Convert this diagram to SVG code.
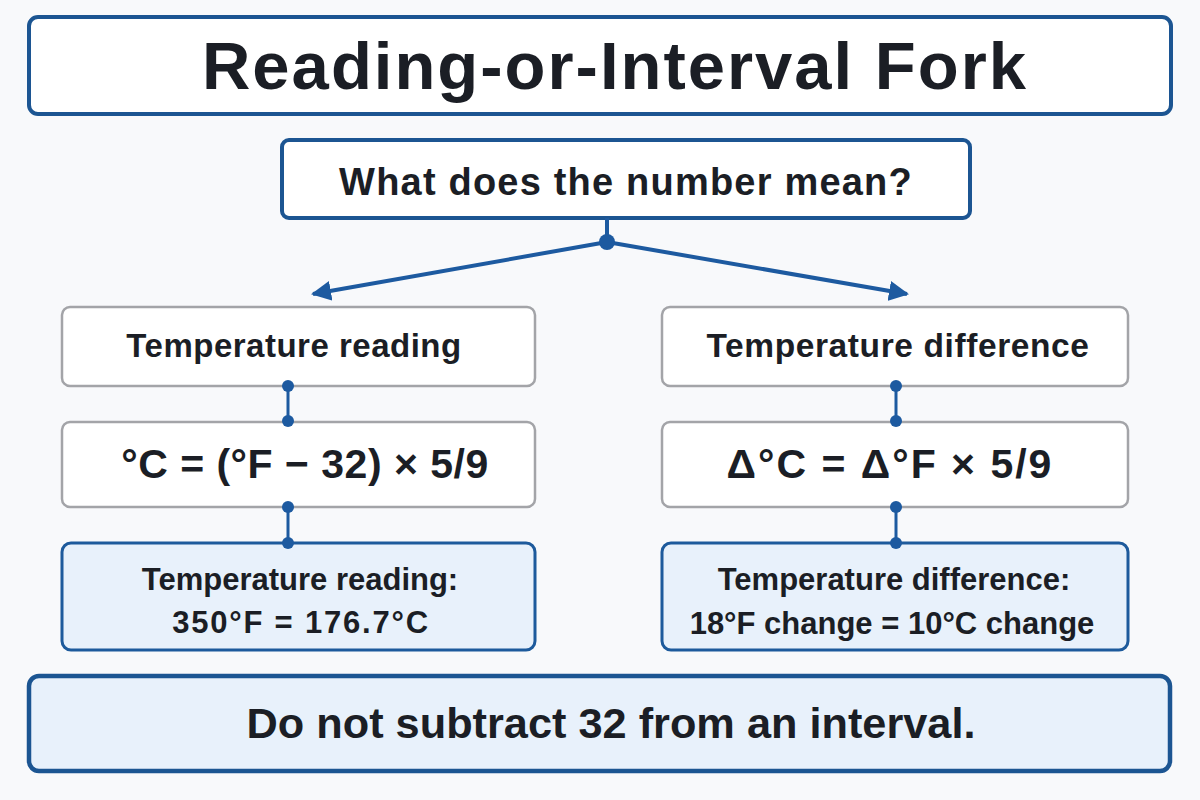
<svg xmlns="http://www.w3.org/2000/svg" width="1200" height="800" viewBox="0 0 1200 800">
<defs>
<style>
.t{font-family:"Liberation Sans",Arial,sans-serif;fill:#1b1e25;text-anchor:middle}
.b{font-weight:bold}
.hdr{fill:#ffffff;stroke:#1c5592;stroke-width:4}
.gray{fill:#ffffff;stroke:#a3a4a8;stroke-width:2.5}
.res{fill:#e8f1fb;stroke:#1d5a9c;stroke-width:3}
.note{fill:#e8f1fb;stroke:#1c5592;stroke-width:4.5}
.ln{stroke:#1d5aa0;stroke-width:4;fill:none}
.ln2{stroke:#1d5aa0;stroke-width:3;fill:none}
.dot{fill:#1d5aa0}
</style>
<marker id="ah" viewBox="0 0 10 10" refX="9" refY="5" markerWidth="5" markerHeight="5" orient="auto" markerUnits="strokeWidth">
<path d="M0,0 L10,5 L0,10 Z" fill="#1d5aa0"/>
</marker>
</defs>
<rect width="1200" height="800" fill="#f8f9fb"/>

<g id="title">
<rect class="hdr" x="29" y="17" width="1142" height="97" rx="9"/>
<text class="t b" x="615" y="89" font-size="67" letter-spacing="2">Reading-or-Interval Fork</text>
</g>

<g id="question">
<rect class="hdr" x="282" y="140" width="688" height="78" rx="7"/>
<text class="t b" x="626" y="195" font-size="38" letter-spacing="1.2">What does the number mean?</text>
</g>

<g id="left-label">
<rect class="gray" x="62" y="307" width="473" height="79" rx="8"/>
<text class="t b" x="294" y="357" font-size="33" letter-spacing="0.5">Temperature reading</text>
</g>
<g id="left-formula">
<rect class="gray" x="62" y="422" width="473" height="85" rx="8"/>
<text class="t b" x="305" y="478" font-size="41" letter-spacing="0.5">°C = (°F − 32) × 5/9</text>
</g>
<g id="left-result">
<rect class="res" x="62" y="543" width="473" height="107" rx="9"/>
<text class="t" x="300" y="590" font-size="31" font-weight="600">Temperature reading:</text>
<text class="t" x="301" y="633" font-size="31" font-weight="600" letter-spacing="1.8">350°F = 176.7°C</text>
</g>

<g id="right-label">
<rect class="gray" x="662" y="307" width="466" height="79" rx="8"/>
<text class="t b" x="898" y="357" font-size="33.5" letter-spacing="0.6">Temperature difference</text>
</g>
<g id="right-formula">
<rect class="gray" x="662" y="422" width="466" height="85" rx="8"/>
<text class="t b" x="890" y="478" font-size="41" letter-spacing="2">Δ°C = Δ°F × 5/9</text>
</g>
<g id="right-result">
<rect class="res" x="662" y="543" width="466" height="107" rx="9"/>
<text class="t" x="894" y="590" font-size="31" font-weight="600">Temperature difference:</text>
<text class="t" x="892" y="634" font-size="31" font-weight="600">18°F change = 10°C change</text>
</g>

<g id="note">
<rect class="note" x="29" y="676" width="1141" height="95" rx="10"/>
<text class="t b" x="611" y="738" font-size="43.3">Do not subtract 32 from an interval.</text>
</g>

<g id="connectors">
<line class="ln" x1="607" y1="218" x2="607" y2="242"/>
<line class="ln" x1="607" y1="242" x2="313" y2="294" marker-end="url(#ah)"/>
<line class="ln" x1="607" y1="242" x2="907" y2="294" marker-end="url(#ah)"/>
<circle class="dot" cx="607" cy="242" r="8"/>
<line class="ln2" x1="288" y1="386" x2="288" y2="421"/>
<circle class="dot" cx="288" cy="386" r="6"/>
<circle class="dot" cx="288" cy="421" r="6"/>
<line class="ln2" x1="288" y1="507" x2="288" y2="543"/>
<circle class="dot" cx="288" cy="507" r="6"/>
<circle class="dot" cx="288" cy="543" r="6"/>
<line class="ln2" x1="896" y1="386" x2="896" y2="421"/>
<circle class="dot" cx="896" cy="386" r="6"/>
<circle class="dot" cx="896" cy="421" r="6"/>
<line class="ln2" x1="896" y1="507" x2="896" y2="543"/>
<circle class="dot" cx="896" cy="507" r="6"/>
<circle class="dot" cx="896" cy="543" r="6"/>
</g>
</svg>
